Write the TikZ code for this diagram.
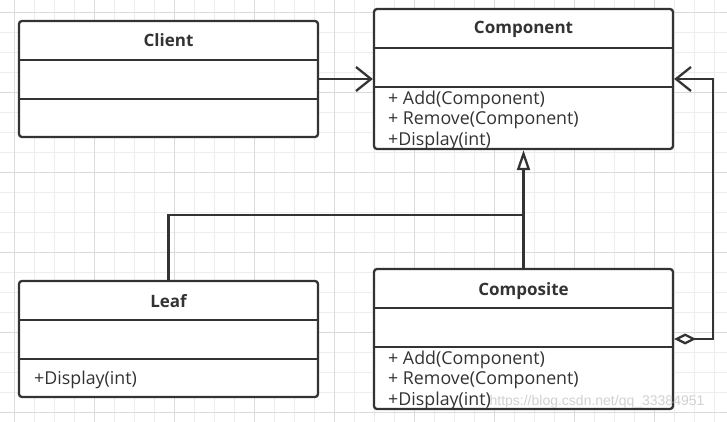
\documentclass[tikz,border=0pt]{standalone}
\usepackage{fontspec}
\setmainfont{Open Sans}
\newfontfamily\wmfont{Liberation Sans}
\usetikzlibrary{arrows.meta,positioning,calc}
\definecolor{ink}{HTML}{333333}
\tikzset{cls/.style={draw=ink,line width=2.3pt,fill=white,rounded corners=3pt,minimum width=299pt},
 ttl/.style={font=\fontsize{17}{18}\selectfont\bfseries,text=ink,inner sep=0pt,anchor=base},
 ops/.style={font=\fontsize{17.8}{20.5}\selectfont,text=ink,align=left,inner sep=0pt,anchor=west},
 wire/.style={draw=ink,line width=2.3pt},
 assoc/.style={wire,-{Straight Barb[length=15pt,width=24pt]}},
 aggr/.style={wire,{Diamond[open,length=22pt,width=11pt]}-{Straight Barb[length=15pt,width=24pt]}},
 gen/.style={wire,-{Triangle[open,length=20pt,width=13pt]}},
 minor/.style={draw=black!7,line width=.6pt},major/.style={draw=black!14,line width=.6pt},
 wm/.style={font=\wmfont\fontsize{14}{16}\selectfont,text=black!18}}
\begin{document}
\begin{tikzpicture}[x=1pt,y=-1pt]
\useasboundingbox(0,0)rectangle(727,422);
\fill[white](0,0)rectangle(727,422);
\foreach \x in {14,34,...,714}{\draw[minor](\x,0)--(\x,422);}
\foreach \y in {12,32,...,412}{\draw[minor](0,\y)--(727,\y);}
\foreach \x in {14,94,...,654}{\draw[major](\x,0)--(\x,422);}
\foreach \y in {12,92,...,412}{\draw[major](0,\y)--(727,\y);}
% classes
\node[cls,minimum height=116pt] (client) at(168.5,79){};
\node[cls,minimum height=140pt] (component) at(523.5,79){};
\node[cls,minimum height=116pt] (leaf) at(168.5,339){};
\node[cls,minimum height=140pt] (composite) at(523.5,339){};
\foreach \x/\y in {19/60,19/99,374/48,374/87,19/320,19/359,374/308,374/347}{
 \draw[wire](\x,\y)--++(299,0);}
\node[ttl] (clientT) at(168.5,47){Client};
\node[ttl] (componentT) at(523.5,34){Component};
\node[ttl] (leafT) at(168.5,307){Leaf};
\node[ttl] (compositeT) at(523.5,295.5){Composite};
\node[ops] (componentO) at(388,120){+ Add(Component)\\+ Remove(Component)\\+Display(int)};
\node[ops] (leafO) at(34,380){+Display(int)};
\node[ops] (compositeO) at(388,380){+ Add(Component)\\+ Remove(Component)\\+Display(int)};
% relations
\coordinate (j) at(523.5,215);
\draw[assoc](client)--(component);
\draw[gen](composite)--(component);
\draw[wire](leaf)|-(j);
\draw[aggr](composite.east)--++(39,0)|-(component.east);
\node[wm] (mark) at(597,402){https://blog.csdn.net/qq\_33384951};
\end{tikzpicture}
\end{document}
